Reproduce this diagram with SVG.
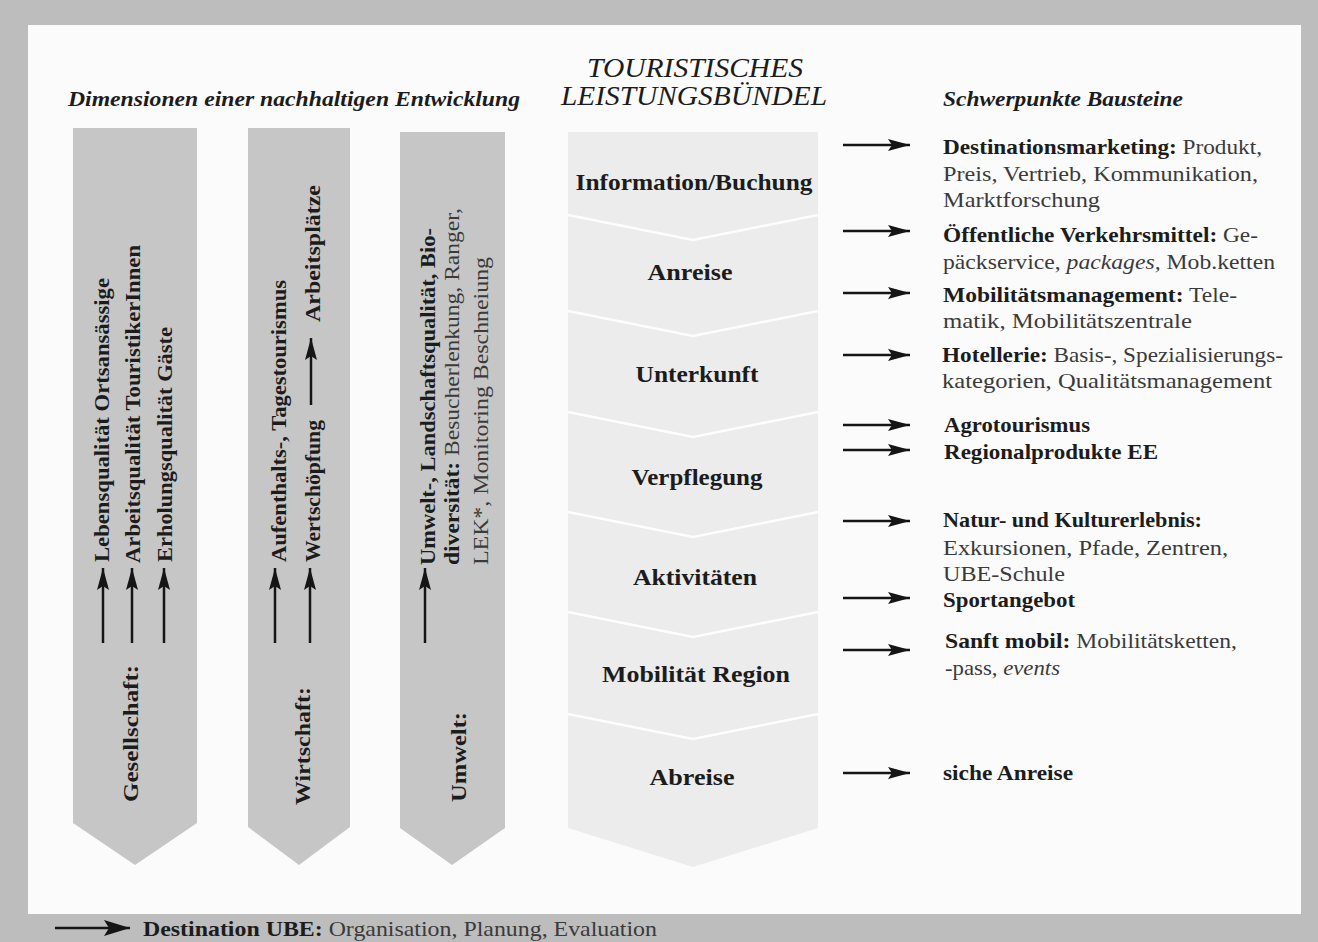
<svg xmlns="http://www.w3.org/2000/svg" width="1318" height="942" viewBox="0 0 1318 942">
<style>
text{font-family:"Liberation Serif","Times New Roman",serif;fill:#1c1c1c}
.b{font-weight:bold}
.r{font-weight:normal;fill:#3a3a3a}
.it{font-style:italic}
.hd{font-size:20px;font-style:italic;font-weight:bold}
.ttl{font-size:28px;font-style:italic}
.lab{font-size:24px;font-weight:bold;text-anchor:middle}
.rt{font-size:22px}
.vt{font-size:21px}
.dim{fill:#c6c6c6}
.bundle{fill:#ececec}
.sep{fill:none;stroke:#fdfdfd;stroke-width:2.5}
.con{stroke:#151515;stroke-width:2.5;fill:none}
</style>
<defs>
<marker id="ah" markerUnits="userSpaceOnUse" markerWidth="24" markerHeight="14" refX="22" refY="7" orient="auto">
<path d="M0,1 L22,7 L0,13 L4,7 z" fill="#151515"/>
</marker>
<marker id="ahb" markerUnits="userSpaceOnUse" markerWidth="28" markerHeight="18" refX="26" refY="9" orient="auto">
<path d="M0,1 L26,9 L0,17 L5,9 z" fill="#151515"/>
</marker>
</defs>
<rect x="0" y="0" width="1318" height="942" fill="#bdbdbd"/>
<rect x="28" y="25" width="1273" height="889" fill="#fbfbfb"/>

<g id="headers">
<text class="hd" x="68" y="106" textLength="452" lengthAdjust="spacingAndGlyphs">Dimensionen einer nachhaltigen Entwicklung</text>
<text class="ttl" x="587" y="77" textLength="216" lengthAdjust="spacingAndGlyphs">TOURISTISCHES</text>
<text class="ttl" x="561" y="105" textLength="266" lengthAdjust="spacingAndGlyphs">LEISTUNGSBÜNDEL</text>
<text class="hd" x="943" y="106" textLength="240" lengthAdjust="spacingAndGlyphs">Schwerpunkte Bausteine</text>
</g>

<g id="gesellschaft">
<polygon class="dim" points="73,128 197,128 197,823 135,865 73,823"/>
<text class="vt b" transform="translate(109,562) rotate(-90)" textLength="284" lengthAdjust="spacingAndGlyphs">Lebensqualität Ortsansässige</text>
<text class="vt b" transform="translate(140,563) rotate(-90)" textLength="318" lengthAdjust="spacingAndGlyphs">Arbeitsqualität TouristikerInnen</text>
<text class="vt b" transform="translate(172,562) rotate(-90)" textLength="235" lengthAdjust="spacingAndGlyphs">Erholungsqualität Gäste</text>
<text class="vt b" transform="translate(138,802) rotate(-90)" textLength="137" lengthAdjust="spacingAndGlyphs">Gesellschaft:</text>
</g>

<g id="wirtschaft">
<polygon class="dim" points="248,128 350,128 350,827 299,865 248,827"/>
<text class="vt b" transform="translate(286,562) rotate(-90)" textLength="282" lengthAdjust="spacingAndGlyphs">Aufenthalts-, Tagestourismus</text>
<text class="vt b" transform="translate(320,562) rotate(-90)" textLength="142" lengthAdjust="spacingAndGlyphs">Wertschöpfung</text>
<text class="vt b" transform="translate(320,322) rotate(-90)" textLength="137" lengthAdjust="spacingAndGlyphs">Arbeitsplätze</text>
<text class="vt b" transform="translate(310,805) rotate(-90)" textLength="118" lengthAdjust="spacingAndGlyphs">Wirtschaft:</text>
</g>

<g id="umwelt">
<polygon class="dim" points="400,132 505,132 505,828 452,865 400,828"/>
<text class="vt b" transform="translate(435,565) rotate(-90)" textLength="337" lengthAdjust="spacingAndGlyphs">Umwelt-, Landschaftsqualität, Bio-</text>
<text class="vt" transform="translate(459,565) rotate(-90)" textLength="357" lengthAdjust="spacingAndGlyphs"><tspan class="b">diversität:</tspan><tspan class="r"> Besucherlenkung, Ranger,</tspan></text>
<text class="vt r" transform="translate(488,565) rotate(-90)" textLength="308" lengthAdjust="spacingAndGlyphs">LEK*, Monitoring Beschneiung</text>
<text class="vt b" transform="translate(466,802) rotate(-90)" textLength="90" lengthAdjust="spacingAndGlyphs">Umwelt:</text>
</g>

<g id="leistungsbuendel">
<polygon class="bundle" points="568,132 818,132 818,828 693,867 568,828"/>
<polyline class="sep" points="568,215 693,240 818,215"/>
<polyline class="sep" points="568,311 693,336 818,311"/>
<polyline class="sep" points="568,412 693,437 818,412"/>
<polyline class="sep" points="568,512 693,537 818,512"/>
<polyline class="sep" points="568,612 693,637 818,612"/>
<polyline class="sep" points="568,714 693,739 818,714"/>
<text class="lab" x="694" y="190" textLength="237" lengthAdjust="spacingAndGlyphs">Information/Buchung</text>
<text class="lab" x="690" y="280" textLength="85" lengthAdjust="spacingAndGlyphs">Anreise</text>
<text class="lab" x="697" y="382" textLength="123" lengthAdjust="spacingAndGlyphs">Unterkunft</text>
<text class="lab" x="697" y="485" textLength="131" lengthAdjust="spacingAndGlyphs">Verpflegung</text>
<text class="lab" x="695" y="585" textLength="124" lengthAdjust="spacingAndGlyphs">Aktivitäten</text>
<text class="lab" x="696" y="682" textLength="188" lengthAdjust="spacingAndGlyphs">Mobilität Region</text>
<text class="lab" x="692" y="785" textLength="85" lengthAdjust="spacingAndGlyphs">Abreise</text>
</g>

<g id="bausteine">
<text class="rt" x="943" y="154" textLength="319" lengthAdjust="spacingAndGlyphs"><tspan class="b">Destinationsmarketing:</tspan><tspan class="r"> Produkt,</tspan></text>
<text class="rt r" x="943" y="181" textLength="315" lengthAdjust="spacingAndGlyphs">Preis, Vertrieb, Kommunikation,</text>
<text class="rt r" x="943" y="207" textLength="157" lengthAdjust="spacingAndGlyphs">Marktforschung</text>
<text class="rt" x="943" y="242" textLength="315" lengthAdjust="spacingAndGlyphs"><tspan class="b">Öffentliche Verkehrsmittel:</tspan><tspan class="r"> Ge-</tspan></text>
<text class="rt r" x="943" y="269" textLength="332" lengthAdjust="spacingAndGlyphs">päckservice, <tspan class="it">packages,</tspan> Mob.ketten</text>
<text class="rt" x="943" y="302" textLength="294" lengthAdjust="spacingAndGlyphs"><tspan class="b">Mobilitätsmanagement:</tspan><tspan class="r"> Tele-</tspan></text>
<text class="rt r" x="943" y="328" textLength="249" lengthAdjust="spacingAndGlyphs">matik, Mobilitätszentrale</text>
<text class="rt" x="942" y="362" textLength="341" lengthAdjust="spacingAndGlyphs"><tspan class="b">Hotellerie:</tspan><tspan class="r"> Basis-, Spezialisierungs-</tspan></text>
<text class="rt r" x="942" y="388" textLength="330" lengthAdjust="spacingAndGlyphs">kategorien, Qualitätsmanagement</text>
<text class="rt b" x="944" y="432" textLength="146" lengthAdjust="spacingAndGlyphs">Agrotourismus</text>
<text class="rt b" x="944" y="459" textLength="214" lengthAdjust="spacingAndGlyphs">Regionalprodukte EE</text>
<text class="rt b" x="943" y="527" textLength="259" lengthAdjust="spacingAndGlyphs">Natur- und Kulturerlebnis:</text>
<text class="rt r" x="943" y="555" textLength="285" lengthAdjust="spacingAndGlyphs">Exkursionen, Pfade, Zentren,</text>
<text class="rt r" x="943" y="581" textLength="122" lengthAdjust="spacingAndGlyphs">UBE-Schule</text>
<text class="rt b" x="943" y="607" textLength="132" lengthAdjust="spacingAndGlyphs">Sportangebot</text>
<text class="rt" x="945" y="648" textLength="292" lengthAdjust="spacingAndGlyphs"><tspan class="b">Sanft mobil:</tspan><tspan class="r"> Mobilitätsketten,</tspan></text>
<text class="rt r" x="945" y="675" textLength="115" lengthAdjust="spacingAndGlyphs">-pass, <tspan class="it">events</tspan></text>
<text class="rt b" x="943" y="780" textLength="130" lengthAdjust="spacingAndGlyphs">siche Anreise</text>
</g>

<g id="legende">
<text class="rt" x="143" y="936" textLength="514" lengthAdjust="spacingAndGlyphs"><tspan class="b">Destination UBE:</tspan><tspan class="r"> Organisation, Planung, Evaluation</tspan></text>
</g>

<g id="connectors">
<line class="con" x1="103" y1="643" x2="103" y2="568" marker-end="url(#ah)"/>
<line class="con" x1="132" y1="643" x2="132" y2="568" marker-end="url(#ah)"/>
<line class="con" x1="164" y1="643" x2="164" y2="568" marker-end="url(#ah)"/>
<line class="con" x1="275" y1="643" x2="275" y2="568" marker-end="url(#ah)"/>
<line class="con" x1="310" y1="643" x2="310" y2="568" marker-end="url(#ah)"/>
<line class="con" x1="311" y1="405" x2="311" y2="338" marker-end="url(#ah)"/>
<line class="con" x1="425" y1="643" x2="425" y2="568" marker-end="url(#ah)"/>
<line class="con" x1="843" y1="145" x2="910" y2="145" marker-end="url(#ah)"/>
<line class="con" x1="843" y1="231" x2="910" y2="231" marker-end="url(#ah)"/>
<line class="con" x1="843" y1="293" x2="910" y2="293" marker-end="url(#ah)"/>
<line class="con" x1="843" y1="355" x2="910" y2="355" marker-end="url(#ah)"/>
<line class="con" x1="843" y1="425" x2="910" y2="425" marker-end="url(#ah)"/>
<line class="con" x1="843" y1="450" x2="910" y2="450" marker-end="url(#ah)"/>
<line class="con" x1="843" y1="521" x2="910" y2="521" marker-end="url(#ah)"/>
<line class="con" x1="843" y1="598" x2="910" y2="598" marker-end="url(#ah)"/>
<line class="con" x1="843" y1="650" x2="910" y2="650" marker-end="url(#ah)"/>
<line class="con" x1="843" y1="773" x2="910" y2="773" marker-end="url(#ah)"/>
<line class="con" x1="55" y1="928" x2="130" y2="928" marker-end="url(#ahb)"/>
</g>
</svg>
